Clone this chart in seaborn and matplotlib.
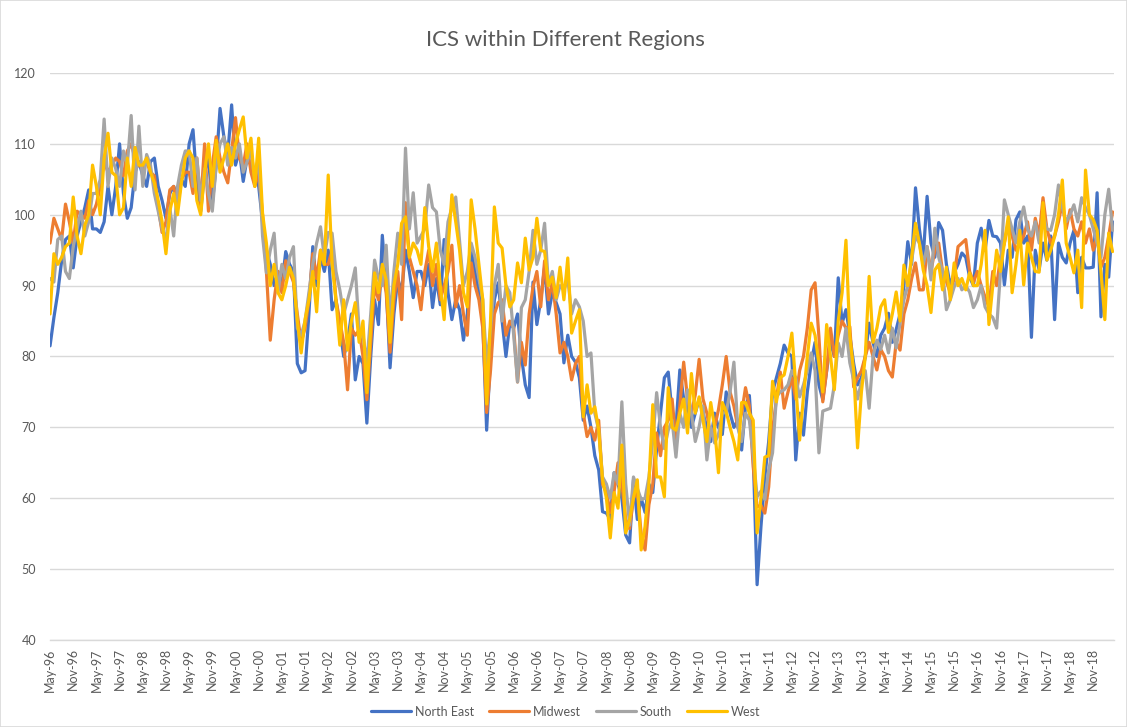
import numpy as np
import pandas as pd
import matplotlib
matplotlib.use("Agg")
import matplotlib.pyplot as plt
from matplotlib.patches import Rectangle
from matplotlib.lines import Line2D
import seaborn as sns

# ---------------- data (monthly, May-96 .. Apr-19) ----------------
north_east = [
    81.5, 85.5, 89, 93.5, 96.5, 97, 92.5, 97, 99, 101, 103.5, 98,
    98, 97.5, 99, 104, 100, 104, 110, 103, 99.5, 101, 106, 107.5,
    105.5, 104, 107.5, 108, 104, 102, 99.5, 103, 104, 102.5, 105, 104,
    110, 112, 104.5, 100.5, 106, 108, 101.5, 107, 115, 111, 108.5, 115.5,
    107, 109, 104.7, 108, 107, 106, 104, 99, 95, 93, 90, 92,
    90, 94.8, 93, 92, 79, 77.7, 78, 86, 95.5, 90, 94, 92,
    95, 86.6, 88, 84, 80, 82, 86, 76.7, 80, 79, 70.6, 80,
    88, 84.5, 97.1, 90, 78.4, 86, 91, 89, 95, 92, 88.3, 92,
    92, 90, 93, 86.9, 91, 87.3, 96.5, 89, 85.2, 88, 86.6, 82.3,
    86, 95, 92, 89, 85, 69.6, 80, 88, 90.4, 85, 80, 84.7,
    84, 86, 80, 76, 74.2, 90.5, 84.5, 88, 92.6, 86, 89, 87.6,
    86, 79.1, 83, 80, 79.2, 77, 71, 73, 70, 66, 64, 58.1,
    57.9, 57, 63.6, 62, 60, 54.8, 53.7, 62.6, 57, 60, 58, 62,
    60.8, 67, 72, 77, 77.8, 72, 70, 78.1, 74, 73, 70, 72,
    74, 72, 70, 68, 72, 70, 69, 75, 72, 70, 71, 66.8,
    73, 74.5, 66, 47.8, 56, 63, 68, 75, 77, 79, 81.6, 80.5,
    80, 65.4, 72, 68.9, 75, 79.1, 82, 76, 73.9, 78, 82, 80,
    91.1, 84.7, 86.6, 83, 79, 76, 77, 80, 84.7, 82, 80, 83,
    84, 86.1, 82, 83.8, 86, 90, 96.2, 93, 103.8, 98, 94, 102.6,
    96, 94, 98.9, 97.8, 93, 90, 91.8, 93, 94.6, 94, 91.2, 90,
    96, 98.1, 95, 99.2, 97, 96.9, 96, 90.1, 95, 94, 99.3, 100.4,
    96, 97, 82.7, 95, 92.2, 96, 93.6, 97, 85.2, 96, 94, 93.2,
    96, 97.8, 89, 94, 92.5, 92.5, 92.6, 103.1, 85.6, 93, 91.2, 99,
]
midwest = [
    96, 99.5, 98, 96.5, 101.5, 99, 96, 100.5, 100, 99.5, 102, 100,
    101.5, 104, 107.5, 106, 107, 108, 107.5, 105.5, 109, 110, 108, 107,
    106.5, 107.5, 106, 105.5, 101, 97.5, 99, 103.5, 104, 101, 105, 106,
    106, 103, 108, 101.5, 110, 100.5, 107, 111, 108, 106, 104.5, 109,
    113.7, 108, 107, 110, 106, 104, 106, 100, 92, 82.3, 88, 92,
    89, 93.5, 92, 90.5, 86, 82, 84, 88, 94.5, 91, 95, 93,
    93, 95, 88, 85, 82, 75.3, 84, 83, 83.7, 80, 73.9, 82,
    90, 88, 92.2, 89, 80.6, 88, 92, 85.2, 101.7, 94, 92, 90,
    86.6, 92, 95, 90, 93, 88, 90, 92, 95.7, 87, 90, 86,
    83, 93.2, 90, 88, 84, 72.1, 78, 86, 87.6, 88, 83, 85,
    84, 76.4, 82, 78.8, 86, 89.8, 92, 87, 93.5, 88, 90.5, 86,
    80.5, 82, 80, 76.7, 79, 80, 72, 68.7, 70, 68.2, 71, 62,
    60.8, 58, 61, 65, 62, 57, 55.7, 60, 61, 55, 52.7, 59.1,
    62, 69.2, 66, 70, 71, 74, 68, 73, 79.2, 74, 72, 74.6,
    79.6, 74, 72, 68.9, 70, 72.5, 76, 80, 75, 73, 70, 72,
    75.6, 73, 64.4, 58.8, 59, 57.9, 61.6, 69.6, 74, 77.8, 72.7, 75,
    77, 74, 78, 80, 84, 89.4, 90.4, 82.8, 73.6, 78, 84, 80,
    83, 85, 84, 84.2, 75.7, 77, 78, 80, 82, 80, 78.1, 81,
    80, 78, 77.1, 82, 80.9, 86, 88, 91, 93.2, 89.4, 89.4, 95.5,
    92, 95, 96, 92, 90.6, 89, 91, 95.5, 96, 96.5, 92, 90.5,
    92, 90, 88.4, 87, 92, 90, 94, 96, 98.8, 97, 95, 96,
    97, 99, 95, 99.5, 97, 102.4, 98, 96, 97, 99, 101.7, 98,
    100.7, 98, 97, 99, 96, 98, 95, 97, 92.6, 94, 97, 100.4,
]
south = [
    91, 90.5, 96.5, 97, 92, 91, 95.5, 98, 100.5, 97, 99, 103,
    103, 105, 113.5, 104, 108, 106.5, 104, 109, 107, 114, 103.5, 112.5,
    104, 108.5, 107, 103, 100.5, 98, 96.5, 101, 97, 104, 107, 109,
    109, 104, 108, 102, 106.5, 103, 100.5, 107, 110, 111, 107, 109.5,
    108, 110, 106, 107.5, 109, 105, 108, 97, 91.8, 95, 97.4, 89,
    93, 91, 94, 95.5, 84, 83, 85, 89, 93, 96, 98.3, 94,
    97.5, 97.4, 92, 89.4, 86, 88, 90, 92.5, 83.7, 83, 79, 86,
    93.6, 91, 90, 95.7, 85, 92, 97.4, 93, 109.4, 98, 103.1, 96,
    97, 98, 104.2, 101, 100.4, 95, 93, 99, 101, 102.5, 96.2, 90,
    92, 96, 94, 91, 88, 78.8, 84, 90, 93, 85, 90, 89,
    83, 76.4, 86.9, 88, 92, 97.8, 93, 95, 98.8, 90, 92, 88,
    90, 89.4, 91, 86, 88, 87, 85, 80, 80.5, 72, 69.6, 63,
    62, 60, 63.6, 62, 73.6, 62, 56.2, 63, 61.4, 59.8, 60, 63,
    68.2, 74.9, 70, 67, 69.6, 71, 65.8, 72, 70, 75.3, 72, 68,
    70.1, 73, 65.4, 70, 67.8, 69, 72, 72.1, 75, 79.2, 70, 68,
    72, 71, 66, 60.2, 61, 59.8, 64, 66.4, 74.3, 75, 75.3, 76,
    78, 77, 74.3, 76, 78, 80.5, 78, 66.4, 72.3, 72.5, 72.7, 76,
    81.9, 80, 84, 79.1, 76.7, 74, 76.4, 78, 72.7, 80, 82.3, 81,
    83, 80.5, 84, 81.2, 84.7, 88, 90, 93.6, 97, 96, 93, 95.5,
    90.8, 98.1, 94, 92, 86.6, 88, 89.8, 91, 89.4, 90, 89.1, 86.9,
    88, 90, 87, 86, 85.5, 84, 92, 102.1, 100, 98, 96, 99,
    101.1, 98, 97, 99, 96, 100, 98, 97.8, 100, 104.2, 101, 99,
    100, 101.4, 99, 102.4, 101, 100, 98, 96, 94, 100, 103.6, 97.8,
]
west = [
    86, 94.5, 93, 94, 95.5, 96, 102.5, 97, 94.5, 98.5, 100, 107,
    104, 100, 108, 111.5, 106, 105.5, 100, 101, 108, 104, 109.5, 107,
    107, 108, 106, 104.5, 102, 99, 94.5, 100.5, 103, 100, 104.5, 108,
    109, 108, 102, 100, 106, 110, 104, 110.5, 106, 108, 110, 107,
    110, 112, 113.8, 108, 110.8, 104, 110.8, 100.2, 96, 90, 93, 89,
    88, 90, 92.6, 91, 85, 80.5, 85.2, 88, 92, 86.3, 95, 93,
    105.6, 93, 88, 81.6, 88, 80.9, 85, 87.6, 82, 85, 74.9, 84,
    91.8, 89, 93, 90.8, 82, 90, 93, 98.8, 99.7, 94, 96, 95,
    93, 101, 95.5, 92, 96, 90, 85.2, 95, 102.8, 99, 95, 89,
    87, 102.1, 98, 93, 88, 73.3, 85, 101.1, 96, 95.3, 90, 87,
    88, 93.2, 90.4, 96.7, 92.2, 94, 99.5, 95, 94.8, 90, 91.2, 88.3,
    92.6, 88, 93.9, 83.3, 85, 86.6, 71.5, 76, 72, 72.9, 69.6, 62.6,
    60, 54.4, 60.8, 58.6, 67.5, 55.1, 57, 60, 62.6, 52.7, 56, 62,
    73.2, 63, 63, 60.2, 75.6, 70, 69.6, 72, 74, 69.2, 77.6, 72,
    74.3, 71, 68, 73.5, 70, 63.6, 73.5, 72.2, 70, 68, 65.4, 73.5,
    73.5, 72, 71, 55.1, 60, 65.8, 66, 76.5, 73.6, 77, 77.4, 80,
    83.3, 76, 68.2, 74.3, 80, 84.7, 83, 79, 75, 84.5, 80, 75.3,
    85, 89, 96.4, 82.8, 78, 67.1, 75, 80, 91.3, 82, 84, 87,
    88, 83.4, 86, 89.1, 85, 92.9, 90, 94, 98.8, 96, 92.2, 90,
    86.2, 92.2, 93, 89.4, 92.6, 88, 93.2, 90, 91, 89.4, 91.8, 90,
    90, 93, 97.8, 84.5, 90, 95, 92, 96, 99.7, 89, 93, 97.8,
    90.1, 96, 94, 92, 91.9, 101.7, 93.6, 95, 96.9, 100, 104.9, 96,
    94, 91.8, 95, 86.9, 106.3, 100, 99.3, 97.8, 92, 85.2, 97.4, 94.8,
]

regions = ["North East", "Midwest", "South", "West"]
colors = ["#4472C4", "#ED7D31", "#A5A5A5", "#FFC000"]
series = [north_east, midwest, south, west]

months = pd.period_range("1996-05", periods=len(north_east), freq="M")
month_labels = [m.strftime("%b-%y") for m in months]
y_ticks = [40, 50, 60, 70, 80, 90, 100, 110, 120]

# ---------------- build long-form frame ----------------
frames = []
for name, vals in zip(regions, series):
    frames.append(pd.DataFrame({"idx": np.arange(len(vals)), "value": vals, "region": name}))
df = pd.concat(frames, ignore_index=True)

sns.set_theme(style="white")
plt.rcParams["font.family"] = ["Lato", "DejaVu Sans"]

txt = "#595959"
grid = "#d9d9d9"

fig = plt.figure(figsize=(11.27, 7.27), dpi=100)
ax = fig.add_axes([0.0444, 0.1197, 0.9445, 0.7799])

sns.lineplot(data=df, x="idx", y="value", hue="region", hue_order=regions,
             palette=dict(zip(regions, colors)), linewidth=2.3, estimator=None,
             legend=False, ax=ax)

ax.set_xlim(0, len(north_east) - 0.5)
ax.set_ylim(40, 120)
ax.set_yticks(y_ticks)
ax.set_yticklabels([str(v) for v in y_ticks], fontsize=9, color=txt)
tick_pos = list(range(0, len(month_labels), 6))
ax.set_xticks(tick_pos)
ax.set_xticklabels([month_labels[i] for i in tick_pos], rotation=90, fontsize=9, color=txt)
ax.tick_params(axis="y", length=0, pad=10)
ax.tick_params(axis="x", length=0, pad=6)
ax.set_xlabel("")
ax.set_ylabel("")
ax.yaxis.grid(True, color=grid, linewidth=1)
ax.xaxis.grid(False)
ax.set_axisbelow(True)
for s in ["top", "right", "left"]:
    ax.spines[s].set_visible(False)
ax.spines["bottom"].set_color(grid)
ax.spines["bottom"].set_linewidth(1)

fig.text(0.502, 0.945, "ICS within Different Regions", ha="center", va="center",
         fontsize=16, color=txt)

handles = [Line2D([0], [0], color=c, lw=2.3) for c in colors]
fig.legend(handles, regions, loc="center", bbox_to_anchor=(0.502, 0.021), ncol=4,
           frameon=False, fontsize=9, handlelength=3.2, columnspacing=1.2,
           handletextpad=0.3, labelcolor=txt)

fig.patches.append(Rectangle((0, 0), 1, 1, transform=fig.transFigure, fill=False,
                             edgecolor=grid, linewidth=1.2))

fig.savefig("out.png", dpi=100)
